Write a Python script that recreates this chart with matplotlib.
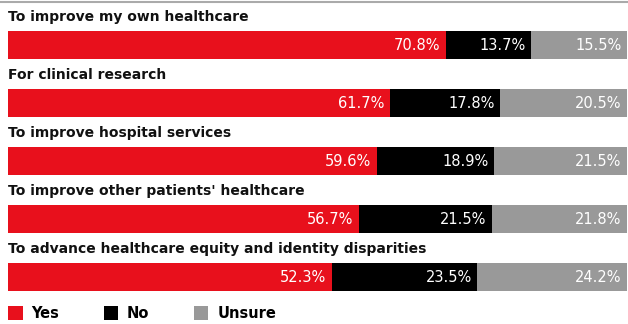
import numpy as np
import matplotlib.pyplot as plt
from matplotlib.patches import Patch
from matplotlib.lines import Line2D

categories = [
    "To improve my own healthcare",
    "For clinical research",
    "To improve hospital services",
    "To improve other patients' healthcare",
    "To advance healthcare equity and identity disparities",
]
yes = [70.8, 61.7, 59.6, 56.7, 52.3]
no = [13.7, 17.8, 18.9, 21.5, 23.5]
unsure = [15.5, 20.5, 21.5, 21.8, 24.2]
series_names = ["Yes", "No", "Unsure"]

colors = ["#e8101c", "#000000", "#999999"]
plt.rcParams['font.family'] = ['DejaVu Sans']

W, H = 628, 324
fig = plt.figure(figsize=(W / 100, H / 100), dpi=100)
ax = fig.add_axes([8 / W, 0, 619 / W, 1])

pitch = 58.0   # px between rows
y0 = 45.0      # px of first bar centre
ax.set_ylim((H - y0) / pitch, -y0 / pitch)
ax.set_xlim(0, 100)
ax.axis('off')

ypos = np.arange(len(categories))
left = np.zeros(len(categories))
for vals, col in zip([yes, no, unsure], colors):
    vals = np.array(vals)
    ax.barh(ypos, vals, left=left, height=28 / pitch, color=col, edgecolor='none')
    for y, l, v in zip(ypos, left, vals):
        ax.annotate("%0.1f%%" % v, xy=(l + v, y), xytext=(-4, 0),
                    textcoords='offset points', ha='right', va='center',
                    color='white', fontsize=10.5)
    left = left + vals

for y, c in zip(ypos, categories):
    ax.text(0, y - 28 / pitch, c, ha='left', va='center', fontsize=10,
            fontweight='bold', color='#111111')

# top rule
fig.add_artist(Line2D([0, 1], [1 - 1.5 / H, 1 - 1.5 / H], color='#aaaaaa', lw=1.5))

handles = [Patch(facecolor=c, edgecolor='none') for c in colors]
ax.legend(handles, series_names, loc='lower left', bbox_to_anchor=(0, 3 / H),
          ncol=3, frameon=False, handlelength=1.0, handleheight=1.1,
          handletextpad=0.6, columnspacing=3.05, borderpad=0, borderaxespad=0,
          prop={'size': 10.5, 'weight': 'bold'})

fig.savefig("out.png", dpi=100)
